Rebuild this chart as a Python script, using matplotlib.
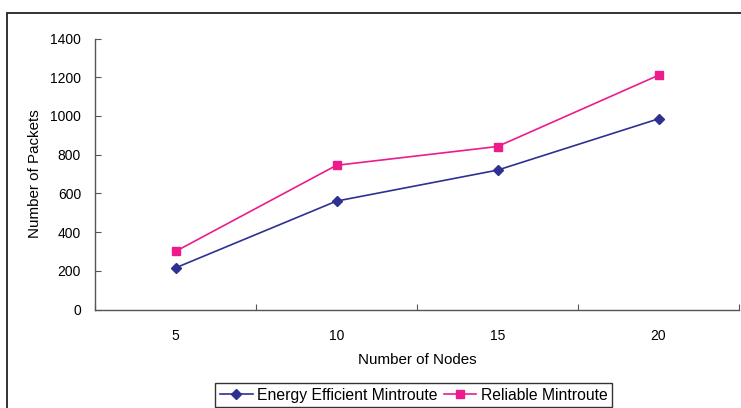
import matplotlib
matplotlib.use('Agg')
import matplotlib.pyplot as plt
from matplotlib.patches import Rectangle

nodes = ['5', '10', '15', '20']
energy_efficient = [215, 560, 720, 985]
reliable = [300, 745, 842, 1210]

plt.rcParams['font.family'] = ['Liberation Sans', 'DejaVu Sans']

fig = plt.figure(figsize=(7.41, 4.08), dpi=100)
ax = fig.add_axes([95 / 741, 1 - 309.5 / 408, 644 / 741, 271 / 408])

x = range(len(nodes))
ax.plot(x, energy_efficient, color='#2e3192', marker='D', markersize=5,
        linewidth=1.2, label='Energy Efficient Mintroute')
ax.plot(x, reliable, color='#ec1c8c', marker='s', markersize=5.5,
        linewidth=1.2, label='Reliable Mintroute')

ax.set_xlim(-0.5, len(nodes) - 0.5)
ax.set_ylim(0, 1400)
ax.set_yticks(range(0, 1401, 200))
ax.set_xticks([i - 0.5 for i in range(len(nodes) + 1)])
ax.set_xticklabels([])
ax.set_xticks(list(x), minor=True)
ax.set_xticklabels(nodes, minor=True)
ax.tick_params(axis='x', which='major', direction='in', length=4, color='#555555')
ax.tick_params(axis='x', which='minor', length=0, pad=14, labelsize=10)
ax.tick_params(axis='y', direction='in', length=4, color='#555555', pad=10, labelsize=10)

for side in ['top', 'right']:
    ax.spines[side].set_visible(False)
for side in ['left', 'bottom']:
    ax.spines[side].set_color('#555555')
    ax.spines[side].set_linewidth(1)

ax.set_xlabel('Number of Nodes', fontsize=10.9, labelpad=7)
ax.set_ylabel('Number of Packets', fontsize=10.9, labelpad=6)

# outer chart frame, cut off at right and bottom
fig.patches.append(Rectangle((7 / 741, -0.1), 1.2, 1 - 13 / 408 + 0.1,
                             transform=fig.transFigure, fill=False,
                             edgecolor='#222222', linewidth=1.3))

leg = fig.legend(loc='upper left', bbox_to_anchor=(215 / 741, 1 - 383 / 408),
                 ncol=2, fontsize=11.3, frameon=True, fancybox=False,
                 edgecolor='black', handlelength=2.1, handletextpad=0.26,
                 columnspacing=0.4, borderpad=0.3, borderaxespad=0)
leg.get_frame().set_linewidth(1)

fig.savefig('out.png', dpi=100, facecolor='white')
